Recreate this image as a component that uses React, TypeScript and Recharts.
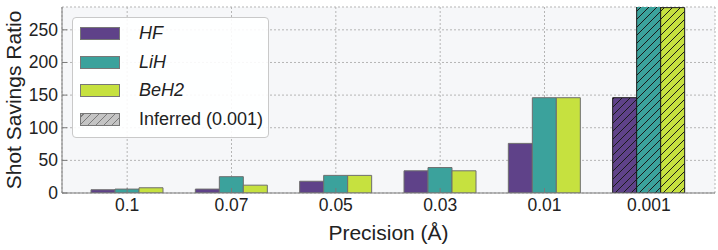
import React from 'react';
import { BarChart, Bar, XAxis, YAxis, CartesianGrid, Legend, Cell } from 'recharts';

const categories = ['0.1', '0.07', '0.05', '0.03', '0.01', '0.001'];
const hfValues = [5, 6, 18, 34, 76, 146];
const lihValues = [6, 25, 27, 39, 146, 292];
const beh2Values = [8, 12, 27, 34, 146, 284];
const inferredCategory = '0.001';
const inferredLabel = 'Inferred (0.001)';
const yTicks = [0, 50, 100, 150, 200, 250];
const seriesNames = ['HF', 'LiH', 'BeH2'];
const xLabel = 'Precision (Å)';
const yLabel = 'Shot Savings Ratio';

const COLORS: Record<string, string> = { HF: '#5f4289', LiH: '#3ba29c', BeH2: '#c6e13f' };
const FONT = '"Liberation Sans", Arial, sans-serif';
const TEXT = '#222';
const FRAME = '#7a7a7a';

const data = categories.map((c, i) => ({
  precision: c,
  HF: hfValues[i],
  LiH: lihValues[i],
  BeH2: beh2Values[i],
}));

const LeftTick = (p: any) => (
  <g>
    <line x1={p.x} x2={p.x + 5} y1={p.y} y2={p.y} stroke={FRAME} />
    <text x={p.x - 4} y={p.y} textAnchor="end" dominantBaseline="central" fontSize={17.5} fontFamily={FONT} fill={TEXT}>
      {p.payload.value}
    </text>
  </g>
);
const RightTick = (p: any) => (
  <line x1={p.x - 5} x2={p.x} y1={p.y} y2={p.y} stroke={FRAME} />
);
const BottomTick = (p: any) => (
  <g>
    <line x1={p.x} x2={p.x} y1={p.y} y2={p.y - 5} stroke={FRAME} />
    <text x={p.x} y={p.y + 18} textAnchor="middle" fontSize={17.5} fontFamily={FONT} fill={TEXT}>
      {p.payload.value}
    </text>
  </g>
);
const TopTick = (p: any) => (
  <line x1={p.x} x2={p.x} y1={p.y} y2={p.y + 5} stroke={FRAME} />
);

const YLabel = (props: any) => {
  const vb = props.viewBox || {};
  const cx = 13;
  const cy = vb.y + vb.height / 2;
  return (
    <text x={cx} y={cy} transform={`rotate(-90, ${cx}, ${cy})`} textAnchor="middle" dominantBaseline="central" fontSize={21} fontFamily={FONT} fill={TEXT}>
      {yLabel}
    </text>
  );
};
const XLabel = (props: any) => {
  const vb = props.viewBox || {};
  return (
    <text x={vb.x + vb.width / 2} y={240} textAnchor="middle" fontSize={21} fontFamily={FONT} fill={TEXT}>
      {xLabel}
    </text>
  );
};

const Patch = ({ color, hatched }: { color: string; hatched?: boolean }) => (
  <div
    style={{
      width: 40,
      height: 13,
      boxSizing: 'border-box',
      border: '1px solid #777',
      background: hatched
        ? `repeating-linear-gradient(-45deg, ${color} 0px, ${color} 4.5px, #7a7a7a 4.5px, #7a7a7a 5.6px)`
        : color,
    }}
  />
);

const LegendContent = () => {
  const rows = [
    ...seriesNames.map((n) => ({ label: n, color: COLORS[n], italic: true, hatched: false })),
    { label: inferredLabel, color: '#c4c4c4', italic: false, hatched: true },
  ];
  return (
    <div
      style={{
        width: 197,
        height: 121,
        boxSizing: 'border-box',
        border: '1px solid #c9c9c9',
        borderRadius: 4,
        background: 'rgba(255,255,255,0.9)',
        paddingTop: 1,
        fontFamily: FONT,
        color: TEXT,
      }}
    >
      {rows.map((r) => (
        <div key={r.label} style={{ height: 28.8, display: 'flex', alignItems: 'center' }}>
          <div style={{ width: 7 }} />
          <Patch color={r.color} hatched={r.hatched} />
          <div style={{ width: 19 }} />
          <span style={{ fontSize: 18, fontStyle: r.italic ? 'italic' : 'normal', whiteSpace: 'nowrap' }}>{r.label}</span>
        </div>
      ))}
    </div>
  );
};

export default function App() {
  return (
    <div style={{ position: 'absolute', left: 0, top: 0, width: 718, height: 250, background: '#fff' }}>
      <svg width={0} height={0} style={{ position: 'absolute' }}>
        <defs>
          {seriesNames.map((n) => (
            <pattern key={n} id={`hatch-${n}`} patternUnits="userSpaceOnUse" width={8} height={8}>
              <rect width={8} height={8} fill={COLORS[n]} />
              <path d="M-2,2 l4,-4 M0,8 l8,-8 M6,10 l4,-4" stroke="#1a1a1a" strokeWidth={1} />
            </pattern>
          ))}
        </defs>
      </svg>
      <BarChart
        width={718}
        height={250}
        data={data}
        margin={{ top: 7, right: 3, left: 0, bottom: 0 }}
        barGap={0}
        barSize={24}
      >
        <CartesianGrid xAxisId="main" yAxisId="main" fill="#f6f7f9" stroke="#b5b5b5" strokeDasharray="2 2" />
        <XAxis
          dataKey="precision"
          xAxisId="main"
          height={57}
          padding={{ left: 13, right: 14 }}
          tickSize={0}
          tickMargin={0}
          tickLine={false}
          axisLine={{ stroke: FRAME }}
          tick={BottomTick}
          interval={0}
          label={XLabel}
        />
        <XAxis
          dataKey="precision"
          xAxisId="top"
          orientation="top"
          height={0}
          padding={{ left: 13, right: 14 }}
          tickSize={0}
          tickMargin={0}
          tickLine={false}
          axisLine={{ stroke: FRAME }}
          tick={TopTick}
          interval={0}
        />
        <YAxis
          yAxisId="main"
          width={62}
          domain={[0, 285]}
          allowDataOverflow
          ticks={yTicks}
          tickSize={0}
          tickMargin={0}
          tickLine={false}
          axisLine={{ stroke: FRAME }}
          tick={LeftTick}
          label={YLabel}
        />
        <YAxis
          yAxisId="right"
          orientation="right"
          width={0}
          domain={[0, 285]}
          allowDataOverflow
          ticks={yTicks}
          tickSize={0}
          tickMargin={0}
          tickLine={false}
          axisLine={{ stroke: FRAME }}
          tick={RightTick}
        />
        <Legend
          layout="vertical"
          align="center"
          verticalAlign="middle"
          content={LegendContent}
          wrapperStyle={{ position: 'absolute', left: 72, top: 17, width: 'auto', height: 'auto' }}
        />
        {seriesNames.map((n) => (
          <Bar
            key={n}
            dataKey={n}
            xAxisId="main"
            yAxisId="main"
            fill={COLORS[n]}
            stroke="#6e6e6e"
            strokeWidth={1}
            isAnimationActive={false}
          >
            {data.map((d) => (
              <Cell
                key={d.precision}
                fill={d.precision === inferredCategory ? `url(#hatch-${n})` : COLORS[n]}
                stroke={d.precision === inferredCategory ? '#1a1a1a' : '#6e6e6e'}
              />
            ))}
          </Bar>
        ))}
      </BarChart>
    </div>
  );
}
